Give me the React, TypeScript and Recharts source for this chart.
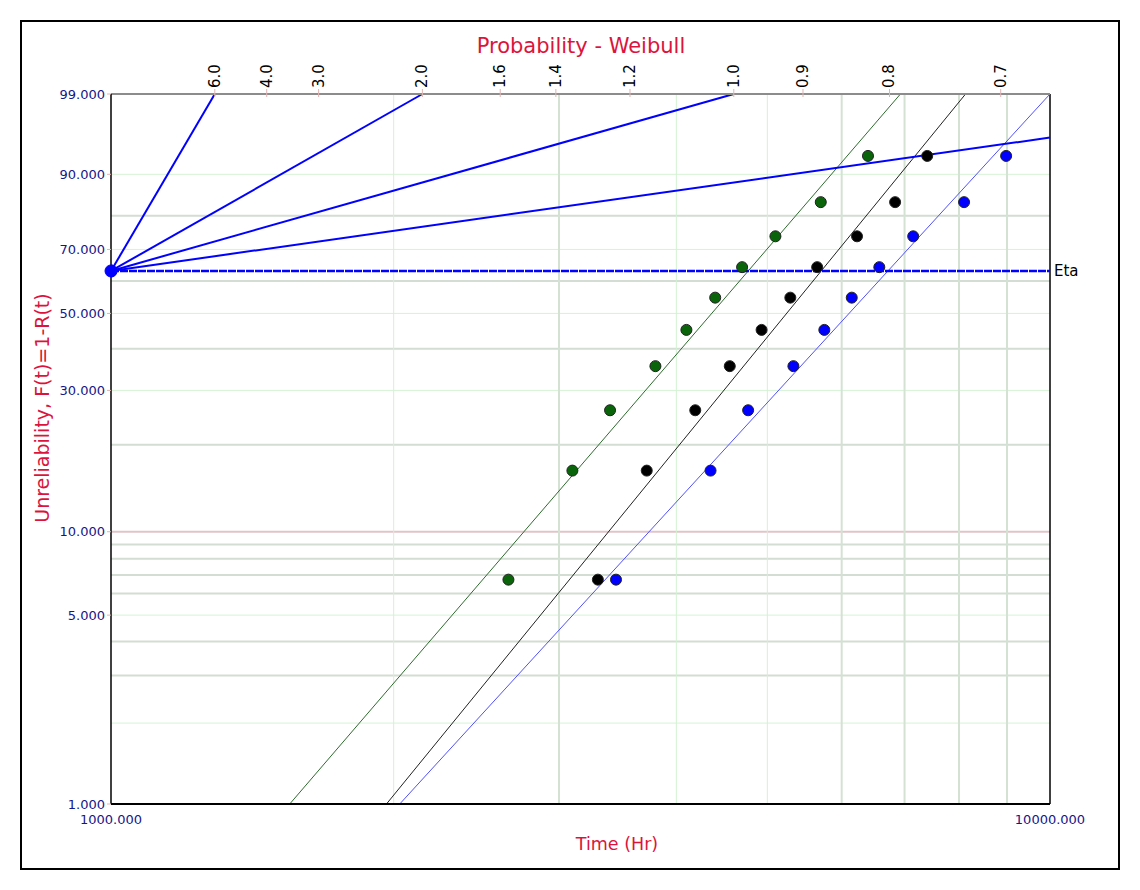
import React from 'react';
import { ComposedChart, XAxis, YAxis, Scatter, ReferenceLine, ReferenceDot } from 'recharts';

// median ranks (%) of the ten failures, same for all three sets
const RANKS = [6.73, 16.35, 25.96, 35.58, 45.19, 54.81, 64.42, 74.04, 83.65, 93.27];
const GREEN_TIMES = [2650, 3100, 3400, 3800, 4100, 4400, 4700, 5100, 5700, 6400];
const BLACK_TIMES = [3300, 3720, 4190, 4560, 4930, 5290, 5650, 6230, 6840, 7400];
const BLUE_TIMES = [3450, 4350, 4770, 5330, 5750, 6150, 6580, 7150, 8100, 8980];

// fitted lines: time at F=1% and at F=99%
const GREEN_FIT = [1550, 6930];
const BLACK_FIT = [1965, 8130];
const BLUE_FIT = [2030, 10000];

const ETA = 1000;
const BETA_TICKS = [6.0, 4.0, 3.0, 2.0, 1.6, 1.4, 1.2, 1.0, 0.9, 0.8, 0.7];
const BETA_LINES = [6.0, 2.0, 1.0, 0.5];
const PROB_TICKS = [1, 5, 10, 30, 50, 70, 90, 99];
const PROB_LIGHT = [2, 5, 30, 50, 70, 90];
const PROB_MINOR = [3, 4, 6, 7, 8, 9, 20, 40, 60, 80];
const TIME_TICKS = [1000, 10000];
const TIME_LIGHT = [2000, 4000, 5000];
const TIME_MINOR = [3000, 6000, 7000, 8000, 9000];

const FONT = '"DejaVu Sans", Verdana, sans-serif';
const NAVY = '#16168a';
const CRIMSON = '#dc143c';

// weibull probability scale
const w = (p: number) => Math.log(-Math.log(1 - p / 100));
const Y_MIN = w(1);
const Y_MAX = w(99);
const T_MIN = 1000;
const T_MAX = 10000;

const toPoints = (times: number[]) => times.map((t, i) => ({ t, y: w(RANKS[i]) }));
const greenPts = toPoints(GREEN_TIMES);
const blackPts = toPoints(BLACK_TIMES);
const bluePts = toPoints(BLUE_TIMES);
const etaPt = [{ t: ETA, y: 0 }];

const fitSegment = (fit: number[]) => [
  { x: fit[0], y: Y_MIN },
  { x: fit[1], y: Y_MAX },
];

const betaEnd = (b: number) => {
  const t = ETA * Math.exp(Y_MAX / b);
  if (t <= T_MAX) return { x: t, y: Y_MAX };
  return { x: T_MAX, y: b * Math.log(T_MAX / ETA) };
};

const betaTime = (b: number) => ETA * Math.exp(Y_MAX / b);
const betaTickTimes = BETA_TICKS.map(betaTime);

const dot = (fill: string, r = 5.5, stroke = '#222') => (props: any) => (
  <circle cx={props.cx} cy={props.cy} r={r} fill={fill} stroke={stroke} strokeWidth={1} />
);

const YTick = (props: any) => {
  const { x, y, payload } = props;
  const p = PROB_TICKS.find((v) => Math.abs(w(v) - payload.value) < 1e-6) ?? 0;
  return (
    <text x={x} y={y} textAnchor="end" dominantBaseline="central" fill={NAVY} fontSize={13} fontFamily={FONT}>
      {p.toFixed(3)}
    </text>
  );
};

const BottomTick = (props: any) => {
  const { x, y, payload } = props;
  return (
    <text x={x} y={y + 13} textAnchor="middle" dominantBaseline="central" fill={NAVY} fontSize={13} fontFamily={FONT}>
      {Number(payload.value).toFixed(3)}
    </text>
  );
};

const BetaTick = (props: any) => {
  const { x, y, payload } = props;
  let k = 0;
  BETA_TICKS.forEach((b, i) => {
    if (Math.abs(betaTime(b) - payload.value) < Math.abs(betaTime(BETA_TICKS[k]) - payload.value)) k = i;
  });
  return (
    <g>
      <line x1={x} x2={x} y1={y - 1} y2={y + 7} stroke="#e0b4b4" strokeWidth={1} />
      <text
        x={x}
        y={y - 2}
        textAnchor="start"
        dominantBaseline="central"
        transform={`rotate(-90, ${x}, ${y - 2})`}
        fill="#000"
        fontSize={15}
        fontFamily={FONT}
      >
        {BETA_TICKS[k].toFixed(1)}
      </text>
    </g>
  );
};

export default function App() {
  return (
    <div style={{ position: 'absolute', left: 0, top: 0, width: 1140, height: 890, background: '#fff' }}>
      <div
        style={{
          position: 'absolute',
          left: 20,
          top: 20,
          width: 1100,
          height: 850,
          border: '2px solid #000',
          boxSizing: 'border-box',
        }}
      />
      <ComposedChart width={1140} height={890} margin={{ top: 54, right: 90, bottom: 56, left: 51 }}>
        <XAxis
          xAxisId="bottom"
          dataKey="t"
          type="number"
          scale="log"
          domain={[T_MIN, T_MAX]}
          allowDataOverflow
          ticks={TIME_TICKS}
          tick={<BottomTick />}
          tickLine={false}
          tickSize={0}
          height={30}
          axisLine={{ stroke: '#000', strokeWidth: 2 }}
        />
        <XAxis
          xAxisId="top"
          dataKey="t"
          orientation="top"
          type="number"
          scale="log"
          domain={[T_MIN, T_MAX]}
          allowDataOverflow
          ticks={betaTickTimes}
          interval={0}
          tick={<BetaTick />}
          tickLine={false}
          tickSize={4}
          tickMargin={0}
          height={40}
          axisLine={{ stroke: '#8c8c8c', strokeWidth: 2 }}
        />
        <YAxis
          dataKey="y"
          type="number"
          domain={[Y_MIN, Y_MAX]}
          allowDataOverflow
          ticks={PROB_TICKS.map(w)}
          interval={0}
          tick={<YTick />}
          tickLine={{ stroke: '#e0b4b4' }}
          tickSize={4}
          tickMargin={2}
          width={60}
          axisLine={{ stroke: '#000', strokeWidth: 1.5 }}
        />

        {PROB_MINOR.map((p) => (
          <ReferenceLine key={'pm' + p} xAxisId="bottom" y={w(p)} stroke="#d3ddd3" strokeWidth={2} />
        ))}
        {PROB_LIGHT.map((p) => (
          <ReferenceLine key={'pl' + p} xAxisId="bottom" y={w(p)} stroke="#d6f3d6" strokeWidth={1} />
        ))}
        <ReferenceLine xAxisId="bottom" y={w(10)} stroke="#e2c4c8" strokeWidth={2} />
        {TIME_MINOR.map((t) => (
          <ReferenceLine key={'tm' + t} xAxisId="bottom" x={t} stroke="#d3e2d3" strokeWidth={2} />
        ))}
        {TIME_LIGHT.map((t) => (
          <ReferenceLine key={'tl' + t} xAxisId="bottom" x={t} stroke="#d2f2d2" strokeWidth={1} />
        ))}
        <ReferenceLine xAxisId="bottom" x={T_MAX} stroke="#000" strokeWidth={1.5} />

        <ReferenceLine xAxisId="bottom" segment={fitSegment(GREEN_FIT)} stroke="#2e6b2e" strokeWidth={1} ifOverflow="hidden" />
        <ReferenceLine xAxisId="bottom" segment={fitSegment(BLACK_FIT)} stroke="#222" strokeWidth={1} ifOverflow="hidden" />
        <ReferenceLine xAxisId="bottom" segment={fitSegment(BLUE_FIT)} stroke="#5050ff" strokeWidth={1} ifOverflow="hidden" />

        {BETA_LINES.map((b) => (
          <ReferenceLine
            key={'b' + b}
            xAxisId="bottom"
            segment={[{ x: ETA, y: 0 }, betaEnd(b)]}
            stroke="#0000ff"
            strokeWidth={2}
            ifOverflow="visible"
          />
        ))}
        <ReferenceLine
          xAxisId="bottom"
          y={0}
          stroke="#0000ff"
          strokeWidth={2.5}
          strokeDasharray="8 1"
          label={{ value: 'Eta', position: 'right', fill: '#000', fontSize: 15, fontFamily: FONT, offset: 4 }}
        />

        <Scatter xAxisId="bottom" data={greenPts} shape={dot('#0a640a')} isAnimationActive={false} />
        <Scatter xAxisId="bottom" data={blackPts} shape={dot('#000')} isAnimationActive={false} />
        <Scatter xAxisId="bottom" data={bluePts} shape={dot('#0000ff')} isAnimationActive={false} />
        <Scatter xAxisId="top" data={etaPt} shape={dot('#0000ff', 6, '#0000ff')} isAnimationActive={false} />
        <ReferenceDot xAxisId="bottom" x={ETA} y={0} r={6} fill="#0000ff" stroke="#0000ff" ifOverflow="visible" />
      </ComposedChart>

      <div
        style={{
          position: 'absolute',
          left: 331,
          width: 500,
          top: 34,
          textAlign: 'center',
          color: CRIMSON,
          fontFamily: FONT,
          fontSize: 21,
        }}
      >
        Probability - Weibull
      </div>
      <div
        style={{
          position: 'absolute',
          left: 517,
          width: 200,
          top: 834,
          textAlign: 'center',
          color: CRIMSON,
          fontFamily: FONT,
          fontSize: 17.5,
        }}
      >
        Time (Hr)
      </div>
      <div
        style={{
          position: 'absolute',
          left: 42 - 150,
          width: 300,
          top: 408 - 13,
          height: 26,
          lineHeight: '26px',
          textAlign: 'center',
          color: CRIMSON,
          fontFamily: FONT,
          fontSize: 19,
          transform: 'rotate(-90deg)',
        }}
      >
        Unreliability, F(t)=1-R(t)
      </div>
    </div>
  );
}
